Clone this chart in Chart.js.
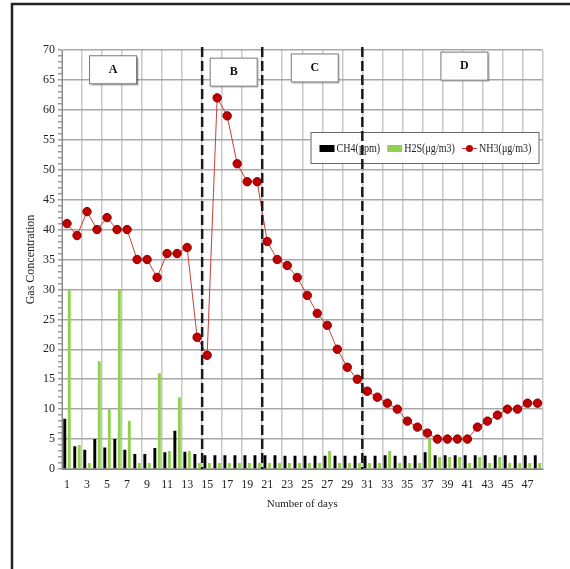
<!DOCTYPE html>
<html>
<head>
<meta charset="utf-8">
<script src="https://cdn.jsdelivr.net/npm/chart.js@4.4.0/dist/chart.umd.min.js"></script>
<style>
  html, body { margin: 0; padding: 0; background: #fff; }
</style>
</head>
<body>
<canvas id="myChart" width="570" height="569"></canvas>
<script>
// days 1..48
var days = ['1','2','3','4','5','6','7','8','9','10','11','12','13','14','15','16',
  '17','18','19','20','21','22','23','24','25','26','27','28','29','30','31','32',
  '33','34','35','36','37','38','39','40','41','42','43','44','45','46','47','48'];

var ch4 = [8.4, 3.8, 3.2, 5.0, 3.6, 5.0, 3.2, 2.5, 2.5, 3.5, 2.8, 6.4, 2.9, 2.5, 2.3, 2.3,
  2.3, 2.3, 2.3, 2.3, 2.3, 2.3, 2.2, 2.2, 2.2, 2.2, 2.2, 2.2, 2.2, 2.2, 2.2, 2.2,
  2.3, 2.2, 2.2, 2.3, 2.8, 2.3, 2.3, 2.3, 2.3, 2.3, 2.3, 2.3, 2.3, 2.3, 2.3, 2.3];

var h2s = [30, 4, 1, 18, 10, 30, 8, 1, 1, 16, 3, 12, 3, 1, 1, 1,
  1, 1, 1, 1, 1, 1, 1, 1, 1, 1, 3, 1, 1, 1, 1, 1,
  3, 1, 1, 1, 5, 2, 2, 2, 1, 2, 1, 2, 1, 1, 1, 1];

var nh3 = [41, 39, 43, 40, 42, 40, 40, 35, 35, 32, 36, 36, 37, 22, 19, 62,
  59, 51, 48, 48, 38, 35, 34, 32, 29, 26, 24, 20, 17, 15, 13, 12,
  11, 10, 8, 7, 6, 5, 5, 5, 5, 7, 8, 9, 10, 10, 11, 11];

// phase boundaries (after these days) and phase names
var phaseBreaks = [14, 20, 30];
var phaseNames = ['A', 'B', 'C', 'D'];

var serif = "'Liberation Serif', 'Times New Roman', serif";
Chart.defaults.font.family = serif;
Chart.defaults.color = '#222';

// text squeezed a bit horizontally, like the original figure
function narrowText(c, txt, x, y, sx) {
  c.save();
  c.translate(x, y);
  c.scale(sx, 1);
  c.fillText(txt, 0, 0);
  c.restore();
  return c.measureText(txt).width * sx;
}

var extras = {
  id: 'extras',
  beforeDraw: function(chart) {
    var c = chart.ctx;
    c.save();
    c.fillStyle = '#fff';
    c.fillRect(0, 0, chart.width, chart.height);
    c.strokeStyle = '#222';
    c.lineWidth = 2.5;
    c.beginPath();
    c.moveTo(12, chart.height);
    c.lineTo(12, 4);
    c.lineTo(chart.width, 4);
    c.stroke();
    c.restore();
  },
  afterDraw: function(chart) {
    var c = chart.ctx, x = chart.scales.x, y = chart.scales.y, area = chart.chartArea;
    c.save();

    // phase label boxes
    var boxAt = [[4.6, 66.7], [16.65, 66.3], [24.75, 67], [39.7, 67.3]];
    phaseNames.forEach(function(name, i) {
      var cx = x.getPixelForValue(boxAt[i][0]);
      var cy = y.getPixelForValue(boxAt[i][1]);
      var w = 48, h = 29;
      c.save();
      c.shadowColor = 'rgba(0,0,0,0.45)';
      c.shadowOffsetX = 1.5;
      c.shadowOffsetY = 1.5;
      c.shadowBlur = 1.5;
      c.fillStyle = '#fff';
      c.fillRect(cx - w / 2, cy - h / 2, w, h);
      c.restore();
      c.strokeStyle = '#777';
      c.lineWidth = 1;
      c.strokeRect(cx - w / 2 + 0.5, cy - h / 2 + 0.5, w - 1, h - 1);
      c.fillStyle = '#111';
      c.font = 'bold 12px ' + serif;
      c.textAlign = 'center';
      c.textBaseline = 'middle';
      c.fillText(name, cx, cy);
    });

    // legend box
    var L = area.right - 232, T = y.getPixelForValue(56.3);
    c.fillStyle = '#fff';
    c.fillRect(L, T, 229, 32);
    c.strokeStyle = '#666';
    c.lineWidth = 1;
    c.strokeRect(L + 0.5, T + 0.5, 228, 31);
    c.font = '12px ' + serif;
    c.textAlign = 'left';
    c.textBaseline = 'middle';
    var mid = T + 16.5, px = L + 9;
    chart.data.datasets.forEach(function(ds) {
      if (ds.type === 'line') {
        c.strokeStyle = ds.borderColor;
        c.lineWidth = 1;
        c.beginPath();
        c.moveTo(px, mid);
        c.lineTo(px + 15, mid);
        c.stroke();
        c.fillStyle = ds.pointBackgroundColor;
        c.beginPath();
        c.arc(px + 7.5, mid, 3.5, 0, Math.PI * 2);
        c.fill();
      } else {
        c.fillStyle = ds.backgroundColor;
        c.fillRect(px, mid - 3.5, 15, 7);
      }
      px += 17;
      c.fillStyle = '#222';
      px += narrowText(c, ds.label, px, mid, 0.84) + 7;
    });

    // dashed phase separators
    c.strokeStyle = '#1a1a1a';
    c.lineWidth = 2.5;
    c.setLineDash([10, 4]);
    phaseBreaks.forEach(function(d) {
      var bx = (x.getPixelForValue(d - 1) + x.getPixelForValue(d)) / 2;
      c.beginPath();
      c.moveTo(bx, area.top - 3);
      c.lineTo(bx, area.bottom);
      c.stroke();
    });
    c.restore();
  }
};

var ctx = document.getElementById('myChart');
var myChart = new Chart(ctx, {
  data: {
    labels: days,
    datasets: [
      {
        type: 'bar',
        label: 'CH4(ppm)',
        data: ch4,
        backgroundColor: '#000000',
        categoryPercentage: 0.9,
        barPercentage: 0.65,
        order: 1
      },
      {
        type: 'bar',
        label: 'H2S(μg/m3)',
        data: h2s,
        backgroundColor: '#92d050',
        categoryPercentage: 0.9,
        barPercentage: 0.65,
        order: 1
      },
      {
        type: 'line',
        label: 'NH3(μg/m3)',
        data: nh3,
        borderColor: '#c8403a',
        borderWidth: 1,
        pointBackgroundColor: '#c00000',
        pointBorderColor: '#8a0000',
        pointBorderWidth: 1,
        pointRadius: 4.2,
        tension: 0,
        order: 0
      }
    ]
  },
  options: {
    responsive: false,
    animation: false,
    layout: { padding: { left: 20, right: 27.5, top: 50, bottom: 50 } },
    plugins: {
      legend: { display: false },
      tooltip: { enabled: false }
    },
    scales: {
      x: {
        type: 'category',
        offset: true,
        grid: {
          offset: true,
          color: function(c) { return (c.index === undefined || c.index % 2 === 0) ? '#c8c8c8' : 'rgba(0,0,0,0)'; },
          lineWidth: 1.5,
          drawTicks: false
        },
        border: { color: '#808080', width: 1 },
        ticks: {
          autoSkip: false,
          maxRotation: 0,
          padding: 9,
          font: { size: 12 },
          callback: function(v, i) { return i % 2 === 0 ? this.getLabelForValue(v) : ''; }
        },
        title: { display: true, text: 'Number of days', font: { size: 11 }, padding: { top: 0, bottom: 8 } },
        afterFit: function(s) { s.height = 50; }
      },
      y: {
        min: 0,
        max: 70,
        ticks: {
          stepSize: 1,
          autoSkip: false,
          padding: 3,
          font: { size: 12 },
          callback: function(v) { return v % 5 === 0 ? v : ''; }
        },
        grid: {
          color: function(c) { return (c.tick && c.tick.value % 5 === 0) ? '#a8a8a8' : 'rgba(0,0,0,0)'; },
          lineWidth: 1.5,
          tickColor: '#9a9a9a',
          tickLength: 4
        },
        border: { color: '#888888' },
        title: { display: true, text: 'Gas Concentration', font: { size: 12 }, padding: { top: 4, bottom: 0 } },
        afterFit: function(s) { s.width = 42; }
      }
    }
  },
  plugins: [extras]
});
</script>
</body>
</html>
